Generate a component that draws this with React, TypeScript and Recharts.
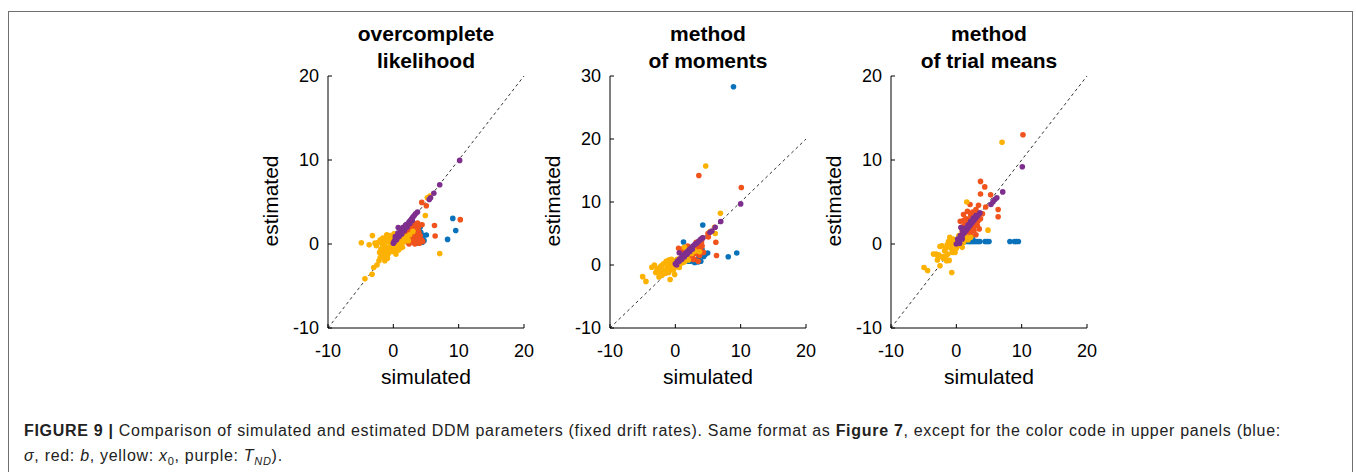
import { ScatterChart, Scatter, XAxis, YAxis, ReferenceLine } from 'recharts';

type Pt = [number, number];

const BLUE = '#0a72ba';
const RED = '#f0531c';
const YELLOW = '#fdb100';
const PURPLE = '#7e2f8e';

const xTicks = [-10, 0, 10, 20];
const yTicks20 = [-10, 0, 10, 20];
const yTicks30 = [-10, 0, 10, 20, 30];

// overcomplete likelihood
const olSigma: Pt[] = [
    [9.1, 3.05], [9.55, 1.6], [8.3, 0.55], [5.05, 1.07], [4.7, 0.4], [4.45, 0.2], [4.2, 1.4], [3.5, 0.1],
    [3.9, 0.6], [4.1, 2.0], [3.2, 0.3], [2.9, 1.2], [3.6, 1.8], [2.6, 0.5], [4.3, 0.7], [3.0, 0.8],
    [2.4, 1.5], [3.3, 2.2], [3.8, 0.2], [4.6, 1.0], [4.0, 1.1],
];
const olB: Pt[] = [
    [10.25, 2.9], [6.3, 2.2], [6.4, 0.95], [4.35, 4.95], [5.05, 4.55], [4.3, 0.5], [4.4, 2.3], [4.0, 2.3],
    [3.8, 1.9], [3.5, 2.4], [3.2, 2.0], [2.9, 1.6], [2.6, 1.2], [2.3, 0.9], [2.0, 0.6], [1.8, 0.3],
    [2.2, 1.8], [2.5, 2.2], [2.8, 0.4], [3.1, 0.2], [3.4, 1.0], [3.6, 0.6], [3.0, 1.1], [2.7, 2.4],
    [2.1, 2.1], [1.6, 1.0], [1.4, 0.5], [3.9, 1.4], [3.3, 0.0], [2.4, 0.0], [4.5, 0.3], [3.7, 2.5],
    [2.0, 1.4], [1.2, 1.6], [2.9, 2.0], [1.9, 1.0], [2.3, 1.4], [2.6, 0.8], [3.1, 1.5], [3.4, 1.8],
    [3.7, 1.1], [4.1, 1.0], [2.5, 1.7], [1.7, 1.9], [3.0, 0.5], [4.0, 0.1], [2.2, 0.3],
];
const olX0: Pt[] = [
    [-4.9, 0.15], [-4.35, -4.15], [-3.2, 1.0], [-3.7, -0.1], [-3.25, -3.6], [7.1, -1.15], [4.9, 3.4], [5.6, 5.7],
    [5.2, 5.5], [-3.0, -2.8], [-2.5, -2.5], [-2.2, -2.0], [-2.0, -1.6], [-1.8, -1.2], [-1.5, -1.5], [-1.2, -0.9],
    [-1.0, -0.5], [-0.8, -1.2], [-2.3, 0.2], [-2.0, 0.5], [-1.7, 0.0], [-1.4, 0.4], [-1.1, 0.8], [-0.8, 0.3],
    [-0.5, 0.6], [-0.3, -0.2], [0.0, -0.5], [0.3, -0.8], [0.6, -0.3], [0.9, 0.2], [1.2, 0.5], [1.5, 0.9],
    [0.5, 1.0], [0.0, 0.8], [-0.6, 1.0], [-1.0, 1.1], [0.2, 0.3], [-0.2, -0.9], [0.4, -1.2], [0.8, -0.7],
    [1.1, -0.1], [1.7, 0.3], [2.1, 0.9], [2.5, 1.1], [3.0, 1.5], [-1.5, -0.3], [-2.6, -0.2], [-0.4, 0.1],
    [0.7, 0.6], [1.4, -0.4], [-0.9, -1.7], [-1.3, -2.0], [-1.9, -0.6], [-1.6, 0.7], [-0.9, 0.5], [-0.2, 0.9],
    [0.3, 0.6], [0.6, 0.2], [1.0, -0.5], [-0.6, -0.4], [-1.3, -0.2], [-0.1, -0.3], [0.5, -0.6], [1.3, 0.1],
    [-2.8, 0.1], [-2.1, -1.0], [1.9, 0.6], [2.3, 0.4], [-0.7, -0.8], [0.1, 1.2], [-1.6, -0.9], [-0.3, 0.4],
    [0.8, 1.1],
];
const olTnd: Pt[] = [
    [10.15, 9.95], [7.1, 7.05], [6.2, 6.05], [5.7, 5.5], [5.5, 5.3], [0.75, 1.95], [0.0, 0.1], [0.2, 0.4],
    [0.4, 0.6], [0.6, 0.8], [0.8, 1.0], [1.0, 1.2], [1.2, 1.4], [1.4, 1.6], [1.6, 1.8], [1.8, 2.0],
    [2.0, 2.2], [2.2, 2.4], [2.4, 2.6], [2.6, 2.8], [2.8, 3.0], [3.0, 3.2], [3.2, 3.4], [3.4, 3.6],
    [3.7, 3.8], [0.3, 0.9], [0.7, 1.3], [1.1, 1.8], [1.5, 2.0], [1.9, 2.3], [0.1, 0.2], [0.5, 0.5],
    [0.9, 0.9], [1.3, 1.2], [1.7, 1.6], [2.1, 2.0], [2.5, 2.4], [2.9, 2.8],
];

// method of moments
const mmSigma: Pt[] = [
    [8.9, 28.3], [9.4, 1.9], [8.1, 1.3], [1.25, 3.65], [4.2, 6.35], [4.95, 1.9], [4.35, 1.35], [4.6, 1.7],
    [3.2, 0.8], [3.6, 1.2], [2.8, 0.5], [2.5, 0.9], [3.9, 0.6], [2.2, 0.6], [4.1, 2.4], [3.3, 2.0],
    [3.0, 0.4], [2.0, 0.6], [3.5, 0.5], [4.0, 1.5],
];
const mmB: Pt[] = [
    [3.6, 14.2], [10.1, 12.3], [6.2, 3.6], [6.3, 1.5], [5.05, 4.45], [5.0, 5.0], [4.2, 4.3], [3.9, 3.8],
    [3.6, 3.3], [3.2, 3.6], [3.0, 2.5], [2.7, 2.9], [2.4, 2.0], [2.0, 1.6], [1.7, 2.7], [1.3, 2.7],
    [1.0, 2.0], [2.6, 1.3], [3.3, 1.8], [3.8, 2.4], [4.1, 3.0], [2.2, 2.4], [1.6, 1.1], [2.9, 0.9],
    [3.5, 0.6], [4.3, 2.0], [1.9, 3.0], [0.5, 2.65], [2.7, 0.9], [1.5, 1.9], [2.0, 2.3], [2.5, 1.7],
    [3.0, 1.9], [3.4, 2.7], [2.2, 1.1], [3.7, 1.5], [1.2, 1.4], [4.0, 3.6], [2.8, 2.2],
];
const mmX0: Pt[] = [
    [4.65, 15.7], [6.9, 8.2], [6.1, 5.0], [-5.0, -1.85], [-4.5, -2.6], [-3.6, -0.35], [-3.2, 0.0], [-0.8, -2.3],
    [-2.5, -1.9], [-2.0, -1.6], [-1.6, -0.8], [-1.2, -0.4], [-0.8, -0.1], [-0.4, 0.2], [0.0, -0.3], [0.4, 0.1],
    [0.8, 0.4], [1.2, 0.8], [-2.3, -0.3], [-1.8, 0.2], [-1.4, 0.6], [-1.0, 0.8], [-0.6, 0.9], [-0.2, 0.5],
    [0.2, 0.8], [-2.8, -0.6], [-1.5, -1.3], [-1.0, -1.2], [-0.3, -0.8], [0.6, -0.4], [1.6, 1.0], [2.0, 0.8],
    [2.5, 1.8], [3.0, 2.2], [3.7, 2.1], [1.4, 2.8], [-3.0, -1.2], [0.9, 1.2], [-0.1, -1.5], [5.3, 5.3],
    [6.0, 6.0], [-1.9, -0.9], [-1.3, 0.1], [-0.6, 0.4], [-0.9, -0.7], [0.1, 0.4], [0.5, -0.1], [1.0, 0.3],
    [-0.5, -0.4], [-2.1, -0.1], [-1.7, -1.2], [0.3, 0.9], [1.4, 0.5], [-2.6, -1.2], [-0.2, -0.1], [0.7, 0.9],
    [1.8, 1.4],
];
const mmTnd: Pt[] = [
    [10.0, 9.7], [6.95, 6.9], [6.1, 6.0], [5.3, 5.2], [5.6, 5.4], [0.6, 1.95], [0.0, 0.2], [0.3, 0.6],
    [0.6, 0.9], [0.9, 1.2], [1.2, 1.5], [1.5, 1.8], [1.8, 2.1], [2.1, 2.4], [2.4, 2.7], [2.7, 3.0],
    [3.0, 3.3], [3.3, 3.5], [3.6, 3.8], [3.9, 4.1], [0.2, 0.0], [0.6, 0.6], [1.0, 0.9], [1.4, 1.3],
    [1.8, 1.7], [2.2, 2.1], [2.6, 2.5], [4.2, 4.3],
];

// method of trial means
const tmSigma: Pt[] = [
    [8.2, 0.3], [8.9, 0.3], [9.2, 0.3], [9.5, 0.3], [1.2, 0.3], [1.5, 0.3], [1.9, 0.3], [2.1, 0.3],
    [2.4, 0.3], [2.7, 0.3], [3.0, 0.3], [3.3, 0.3], [3.6, 0.3], [4.4, 0.3], [4.7, 0.3], [5.0, 0.3],
    [2.0, 0.6], [2.5, 0.6],
];
const tmB: Pt[] = [
    [10.2, 13.0], [3.7, 7.45], [4.35, 6.8], [3.7, 5.95], [5.25, 5.85], [6.4, 4.1], [6.4, 3.25], [1.1, 3.5],
    [0.6, 2.7], [2.2, 3.5], [3.0, 4.1], [3.7, 3.0], [2.1, 4.7], [1.5, 3.0], [1.8, 2.6], [2.5, 2.8],
    [1.2, 2.2], [2.0, 1.8], [2.7, 1.6], [3.2, 2.2], [0.9, 1.5], [1.5, 1.2], [2.3, 1.0], [3.0, 1.1],
    [3.5, 1.8], [1.0, 0.8], [0.8, 2.0], [2.8, 3.2], [4.0, 3.6], [4.5, 4.4], [3.4, 4.6], [1.7, 3.9],
    [1.3, 1.9], [1.9, 2.1], [2.4, 2.3], [2.9, 2.6], [3.3, 2.7], [2.2, 1.5], [1.6, 1.6], [2.6, 1.9],
    [1.1, 2.8], [2.0, 3.0], [3.2, 3.6], [2.5, 3.8],
];
const tmX0: Pt[] = [
    [7.0, 12.1], [1.6, 5.0], [4.85, 1.65], [-4.95, -2.8], [-4.4, -3.15], [-0.7, -3.4], [-3.5, -1.2], [-2.9, -1.9],
    [-3.1, -1.2], [-2.2, -1.5], [-2.2, -0.2], [-1.6, -0.5], [-1.3, -1.2], [-1.0, -0.3], [-0.7, 0.1], [-0.4, -0.6],
    [-0.1, 0.3], [0.2, -0.2], [0.5, 0.4], [0.8, 0.7], [1.1, 0.2], [1.4, 0.9], [-1.0, 0.8], [-1.2, 0.3],
    [-1.1, -1.95], [-2.5, -2.6], [-1.5, -2.0], [-0.2, -1.0], [0.4, 1.0], [1.8, 0.5], [2.2, 0.8], [-2.5, -0.3],
    [0.9, -0.4], [-0.5, 0.6], [-2.7, -1.3], [-1.8, -0.8], [-1.4, -0.1], [-0.9, 0.4], [-0.3, 0.0], [0.3, 0.4],
    [0.6, 0.1], [-0.6, -1.0], [-2.0, -1.7], [-1.6, -1.4], [0.0, -0.5], [1.2, 0.6], [-2.8, -1.5], [-0.8, -0.5],
    [0.7, -0.1],
];
const tmTnd: Pt[] = [
    [10.1, 9.2], [7.1, 6.2], [5.3, 4.7], [5.6, 5.0], [5.9, 5.3], [6.2, 5.5], [0.0, 0.0], [0.3, 0.3],
    [0.6, 0.6], [0.9, 1.0], [1.2, 1.3], [1.5, 1.6], [1.8, 1.9], [2.1, 2.2], [2.4, 2.5], [2.7, 2.8],
    [3.0, 3.1], [3.3, 3.4], [3.6, 3.7], [0.2, 0.6], [0.6, 1.0], [1.0, 1.5], [1.4, 1.9], [1.8, 2.3],
    [2.2, 2.7], [2.6, 3.1], [3.0, 3.4], [0.5, 0.1], [0.9, 0.6], [0.7, 1.95],
];

const FONT = '"Liberation Sans", Arial, sans-serif';

const toRows = (pts: Pt[]) => pts.map(([x, y]) => ({ x, y }));

const dot = (color: string) => (props: any) =>
    <circle cx={props.cx} cy={props.cy} r={2.8} fill={color} />;

interface PanelProps {
    left: number;
    title: string[];
    yMax: number;
    yTicks: number[];
    sigma: Pt[];
    b: Pt[];
    x0: Pt[];
    tnd: Pt[];
}

// plot area: 196 x 252, top at 76
function Panel({ left, title, yMax, yTicks, sigma, b, x0, tnd }: PanelProps) {
    const tickStyle = { fill: '#000', fontSize: 18, fontFamily: FONT };
    return (
        <div style={{ position: 'absolute', left, top: 0, width: 300, height: 400 }}>
            <ScatterChart width={300} height={400} margin={{ top: 76, right: 16, bottom: 42, left: 48 }}>
                <XAxis
                    type="number"
                    dataKey="x"
                    domain={[-10, 20]}
                    ticks={xTicks}
                    tickSize={-4}
                    tickMargin={20}
                    height={30}
                    axisLine={{ stroke: '#000' }}
                    tickLine={{ stroke: '#000' }}
                    tick={tickStyle}
                />
                <YAxis
                    type="number"
                    dataKey="y"
                    domain={[-10, yMax]}
                    ticks={yTicks}
                    tickSize={-4}
                    tickMargin={13}
                    width={40}
                    axisLine={{ stroke: '#000' }}
                    tickLine={{ stroke: '#000' }}
                    tick={tickStyle}
                />
                <Scatter data={toRows(sigma)} shape={dot(BLUE)} isAnimationActive={false} />
                <Scatter data={toRows(b)} shape={dot(RED)} isAnimationActive={false} />
                <Scatter data={toRows(x0)} shape={dot(YELLOW)} isAnimationActive={false} />
                <Scatter data={toRows(tnd)} shape={dot(PURPLE)} isAnimationActive={false} />
                <ReferenceLine
                    segment={[{ x: -10, y: -10 }, { x: 20, y: 20 }]}
                    stroke="#333"
                    strokeDasharray="3 3"
                />
            </ScatterChart>
            <div style={{
                position: 'absolute', left: 88, width: 196, top: 20, textAlign: 'center',
                fontFamily: FONT, fontWeight: 'bold', fontSize: 21, lineHeight: '27px',
            }}>
                {title.map(t => <div key={t}>{t}</div>)}
            </div>
            <div style={{
                position: 'absolute', left: 88, width: 196, top: 365, textAlign: 'center',
                fontFamily: FONT, fontSize: 21,
            }}>
                simulated
            </div>
            <div style={{
                position: 'absolute', left: 31 - 60, top: 202 - 13, width: 120, textAlign: 'center',
                fontFamily: FONT, fontSize: 21, transform: 'rotate(-90deg)',
            }}>
                estimated
            </div>
        </div>
    );
}

export default function App() {
    return (
        <div style={{ position: 'absolute', left: 0, top: 0, width: 1356, height: 472, background: '#fff', overflow: 'hidden' }}>
            <div style={{
                position: 'absolute', left: 8, top: 11, width: 1343, height: 470,
                border: '1.5px solid #707070', borderBottom: 'none',
            }} />
            <Panel left={240} title={['overcomplete', 'likelihood']} yMax={20} yTicks={yTicks20}
                sigma={olSigma} b={olB} x0={olX0} tnd={olTnd} />
            <Panel left={522} title={['method', 'of moments']} yMax={30} yTicks={yTicks30}
                sigma={mmSigma} b={mmB} x0={mmX0} tnd={mmTnd} />
            <Panel left={803} title={['method', 'of trial means']} yMax={20} yTicks={yTicks20}
                sigma={tmSigma} b={tmB} x0={tmX0} tnd={tmTnd} />
            <div style={{
                position: 'absolute', left: 24, top: 418, width: 1320,
                fontFamily: FONT, fontSize: 16, letterSpacing: 0.7, lineHeight: '25px', color: '#222',
            }}>
                <div><b>FIGURE 9 |</b> Comparison of simulated and estimated DDM parameters (fixed drift rates). Same format as <b>Figure 7</b>, except for the color code in upper panels (blue:</div>
                <div><i>σ</i>, red: <i>b</i>, yellow: <i>x</i><sub style={{ fontSize: 11 }}>0</sub>, purple: <i>T</i><sub style={{ fontSize: 11 }}><i>ND</i></sub>).</div>
            </div>
        </div>
    );
}
